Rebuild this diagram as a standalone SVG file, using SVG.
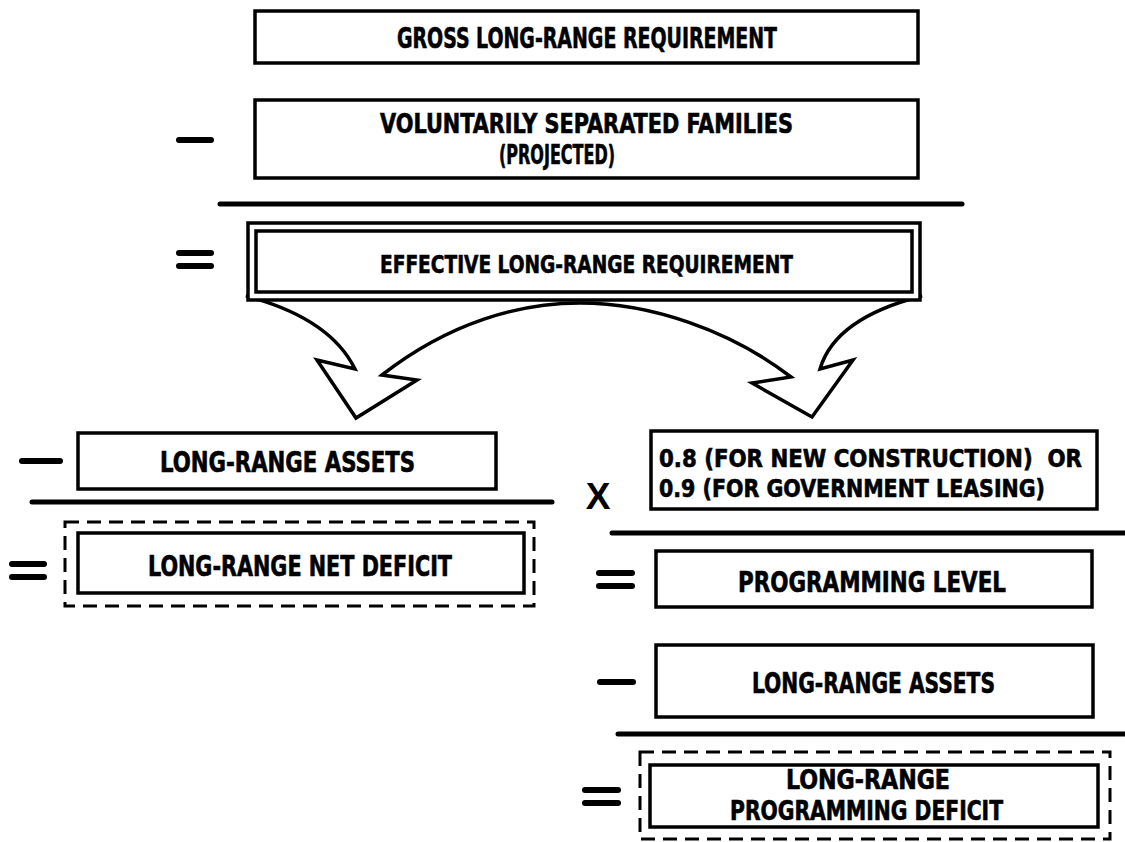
<svg xmlns="http://www.w3.org/2000/svg" width="1125" height="842" viewBox="0 0 1125 842">
<style>
.box{fill:#fff;stroke:#000;stroke-width:3.5}
.dash{fill:none;stroke:#000;stroke-width:3;stroke-dasharray:14 8}
.rule{stroke:#000;stroke-width:5;stroke-linecap:round}
.op{stroke:#000;stroke-width:6;stroke-linecap:round}
.t{font-family:"Liberation Sans Narrow","DejaVu Sans Condensed","Liberation Sans",sans-serif;font-weight:bold;font-size:28px;fill:#000;stroke:#000;stroke-width:0.6}
.s{font-size:25px}
.m{font-size:26px}
.arrow{fill:#fff;stroke:#000;stroke-width:3.5;stroke-linejoin:miter}
</style>
<rect width="1125" height="842" fill="#fff"/>
<g id="connectors">
<path class="arrow" d="M246,296 Q330,318 355,369 L317,360 L356,418 L417,380 L382,375 C450,322 520,303 580,303 C650,303 730,330 791,377 L752,383 L812,417 L853,360 L820,369 Q835,318 922,296 Z"/>
</g>
<g id="rules">
<line class="rule" x1="220" y1="204" x2="962" y2="204"/>
<line class="rule" x1="32" y1="502" x2="552" y2="502"/>
<line class="rule" x1="612" y1="533" x2="1125" y2="533"/>
<line class="rule" x1="618" y1="734" x2="1125" y2="734"/>
</g>
<g id="operators">
<line class="op" x1="179" y1="140" x2="211" y2="140"/>
<line class="op" x1="179" y1="253" x2="211" y2="253"/>
<line class="op" x1="179" y1="266" x2="211" y2="266"/>
<line class="op" x1="22" y1="461" x2="60" y2="461"/>
<line class="op" x1="12" y1="564" x2="44" y2="564"/>
<line class="op" x1="12" y1="577" x2="44" y2="577"/>
<text x="598" y="509" text-anchor="middle" style="font-size:37px;font-weight:bold;font-family:'Liberation Sans',sans-serif">X</text>
<line class="op" x1="599" y1="573" x2="632" y2="573"/>
<line class="op" x1="599" y1="586" x2="632" y2="586"/>
<line class="op" x1="600" y1="682" x2="633" y2="682"/>
<line class="op" x1="585" y1="790" x2="618" y2="790"/>
<line class="op" x1="585" y1="803" x2="618" y2="803"/>
</g>
<g id="n-gross">
<rect class="box" x="255" y="11" width="663" height="52"/>
<text class="t" x="397" y="48" textLength="380" lengthAdjust="spacingAndGlyphs">GROSS LONG-RANGE REQUIREMENT</text>
</g>
<g id="n-voluntary">
<rect class="box" x="255" y="100" width="663" height="78"/>
<text class="t m" x="380" y="133" textLength="413" lengthAdjust="spacingAndGlyphs">VOLUNTARILY SEPARATED FAMILIES</text>
<text class="t m" x="499" y="164" textLength="116" lengthAdjust="spacingAndGlyphs">(PROJECTED)</text>
</g>
<g id="n-effective">
<rect class="box" x="248" y="223" width="672" height="77"/>
<rect class="box" x="256" y="231" width="656" height="61"/>
<text class="t s" x="380" y="273" textLength="413" lengthAdjust="spacingAndGlyphs">EFFECTIVE LONG-RANGE REQUIREMENT</text>
</g>
<g id="n-assets-left">
<rect class="box" x="78" y="433" width="418" height="56"/>
<text class="t" x="160" y="472" textLength="255" lengthAdjust="spacingAndGlyphs">LONG-RANGE ASSETS</text>
</g>
<g id="n-net-deficit">
<rect class="dash" x="65" y="522" width="469" height="84"/>
<rect class="box" x="78" y="533" width="446" height="60"/>
<text class="t" x="148" y="576" textLength="304" lengthAdjust="spacingAndGlyphs">LONG-RANGE NET DEFICIT</text>
</g>
<g id="n-factor">
<rect class="box" x="651" y="431" width="446" height="78"/>
<text class="t" style="font-size:24.5px" x="659" y="467" textLength="423" lengthAdjust="spacingAndGlyphs" xml:space="preserve">0.8 (FOR NEW CONSTRUCTION)  OR</text>
<text class="t" style="font-size:24.5px" x="659" y="497" textLength="386" lengthAdjust="spacingAndGlyphs">0.9 (FOR GOVERNMENT LEASING)</text>
</g>
<g id="n-programming-level">
<rect class="box" x="656" y="551" width="436" height="56"/>
<text class="t" x="738" y="592" textLength="268" lengthAdjust="spacingAndGlyphs">PROGRAMMING LEVEL</text>
</g>
<g id="n-assets-right">
<rect class="box" x="656" y="645" width="437" height="72"/>
<text class="t" x="752" y="693" textLength="243" lengthAdjust="spacingAndGlyphs">LONG-RANGE ASSETS</text>
</g>
<g id="n-programming-deficit">
<rect class="dash" x="640" y="752" width="470" height="87"/>
<rect class="box" x="650" y="765" width="448" height="62"/>
<text class="t m" x="786" y="789" textLength="164" lengthAdjust="spacingAndGlyphs">LONG-RANGE</text>
<text class="t m" x="730" y="820" textLength="273" lengthAdjust="spacingAndGlyphs">PROGRAMMING DEFICIT</text>
</g>
</svg>
